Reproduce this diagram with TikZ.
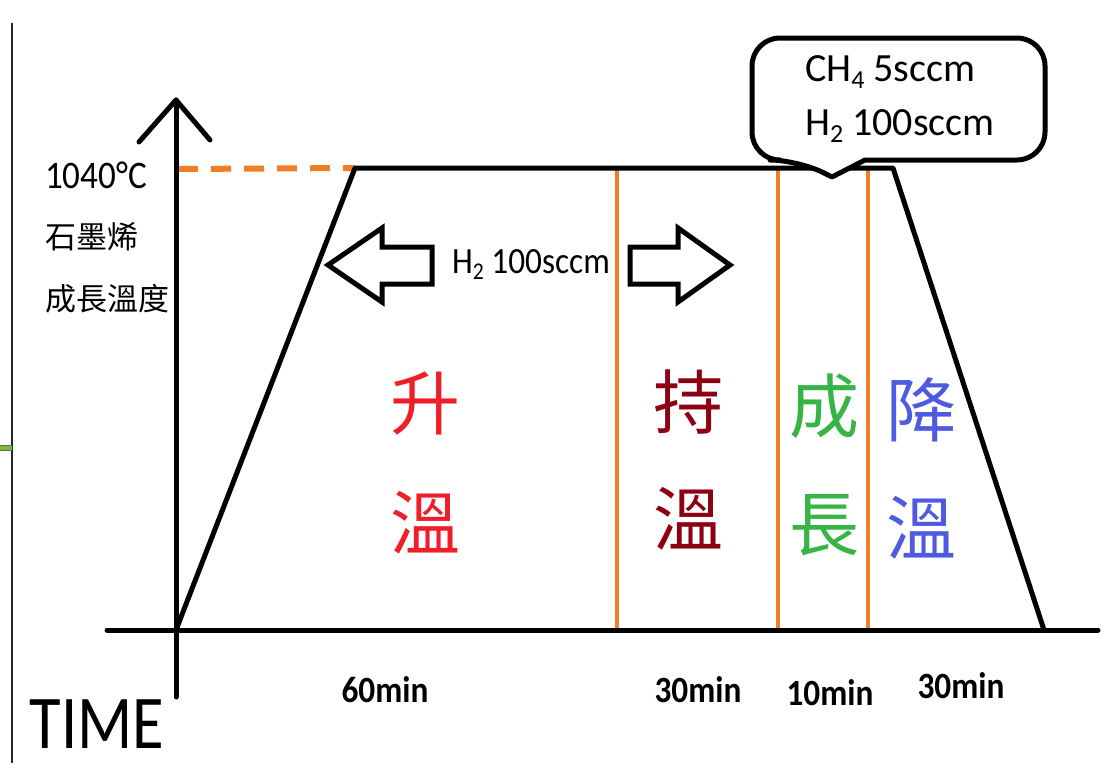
\documentclass[tikz,border=0pt]{standalone}
\usepackage{graphicx}
\usepackage{fontspec}
\setmainfont{Carlito}
\newfontfamily\lbl[FakeStretch=0.9]{Carlito}
\newfontfamily\cjk{Noto Sans CJK TC}
\definecolor{orng}{RGB}{240,125,40}
\definecolor{redc}{RGB}{240,30,40}
\definecolor{darkr}{RGB}{140,0,20}
\definecolor{grn}{RGB}{55,180,70}
\definecolor{blu}{RGB}{80,90,225}
\definecolor{grnmark}{RGB}{130,180,60}
\newcommand\lsub[1]{\raisebox{-0.18em}{\scalebox{0.65}{#1}}}
\begin{document}
\begin{tikzpicture}[x=1pt,y=-1pt,
  blk/.style={line width=5pt, line cap=round, line join=round},
  orl/.style={orng, line width=4pt},
  lab/.style={inner sep=0pt, font=\lbl\fontsize{39}{42}\selectfont},
  dur/.style={inner sep=0pt, font=\lbl\bfseries\fontsize{37}{40}\selectfont},
  big/.style={inner sep=0pt, font=\cjk\fontsize{70}{72}\selectfont},
  side/.style={inner sep=0pt, anchor=west, font=\cjk\fontsize{31}{33}\selectfont}]
\useasboundingbox (0,0) rectangle (1103,763);

% frame remnants at the left edge
\coordinate (fb1) at (12,23);
\coordinate (fb2) at (12,763);
\draw[line width=2.5pt, black!85] (fb1) -- (fb2);
\coordinate (gm1) at (0,448);
\coordinate (gm2) at (12,448);
\draw[line width=6pt, black!60] (gm1) -- (gm2);
\draw[line width=3.5pt, grnmark] (gm1) -- (gm2);

% key points
\coordinate (O) at (176,630);
\coordinate (ytop) at (176,100);
\coordinate (ybot) at (176,697);
\coordinate (yal) at (139,142);
\coordinate (yar) at (210,140);
\coordinate (xl) at (107,630);
\coordinate (xr) at (1098,630);
\coordinate (tl) at (355,168);
\coordinate (tr) at (893,168);
\coordinate (br) at (1044,630);
\coordinate (dl) at (178,169);

% orange dashed level and phase dividers
\draw[orng, line width=6pt, dash pattern=on 20pt off 13pt] (dl) -- (tl);
\foreach \n/\x in {a/617,b/778,c/868}{
  \coordinate (v\n t) at (\x,170);
  \coordinate (v\n b) at (\x,630);
  \draw[orl] (v\n t) -- (v\n b);
}

% axes
\draw[blk] (ybot) -- (ytop);
\draw[blk] (yal) -- (ytop) -- (yar);
\draw[blk] (xl) -- (xr);

% temperature profile
\draw[blk] (O) -- (tl) -- (tr) -- (br);

% callout
\draw[blk, fill=white] (832,177) -- (865,160) [rounded corners=28pt] -- (1045,160) -- (1045,38) -- (752,38) -- (752,160) -- (798,160) [sharp corners] -- cycle;
\node[anchor=base west, inner sep=0pt, font=\fontsize{40}{42}\selectfont] (ch4) at (805,81) {CH\lsub{4} 5sccm};
\node[anchor=base west, inner sep=0pt, font=\fontsize{40}{42}\selectfont] (h2a) at (805,135) {H\lsub{2} 100sccm};

% block arrows
\draw[blk, line cap=butt, line join=miter] (328,265) -- (382,228) -- (382,247) -- (432,247) -- (432,284) -- (382,284) -- (382,302) -- cycle;
\draw[blk, line cap=butt, line join=miter] (730,265) -- (678,228) -- (678,247) -- (630,247) -- (630,284) -- (678,284) -- (678,302) -- cycle;
\node[anchor=base west, inner sep=0pt, font=\lbl\fontsize{37}{40}\selectfont] (h2b) at (452,273) {H\lsub{2} 100sccm};

% y-axis labels
\node[anchor=base west, lab] (temp) at (45,188) {1040°C};
\node[side] (gra) at (45,237) {石墨烯};
\node[side] (grt) at (45,299) {成長溫度};

% phase labels
\node[big, redc] (p1a) at (425,403) {升};
\node[big, redc] (p1b) at (425,523) {溫};
\node[big, darkr] (p2a) at (688,402) {持};
\node[big, darkr] (p2b) at (688,519) {溫};
\node[big, grn] (p3a) at (824,406) {成};
\node[big, grn] (p3b) at (824,525) {長};
\node[big, blu] (p4a) at (921,410) {降};
\node[big, blu] (p4b) at (921,528) {溫};

% durations
\node[dur] (m1) at (385,690) {60min};
\node[dur] (m2) at (698,690) {30min};
\node[dur] (m3) at (830,693) {10min};
\node[dur] (m4) at (961,686) {30min};

% time label
\node[inner sep=0pt] (time) at (97,724) {\scalebox{0.85}[1]{\fontsize{76}{80}\selectfont TIME}};
\end{tikzpicture}
\end{document}
